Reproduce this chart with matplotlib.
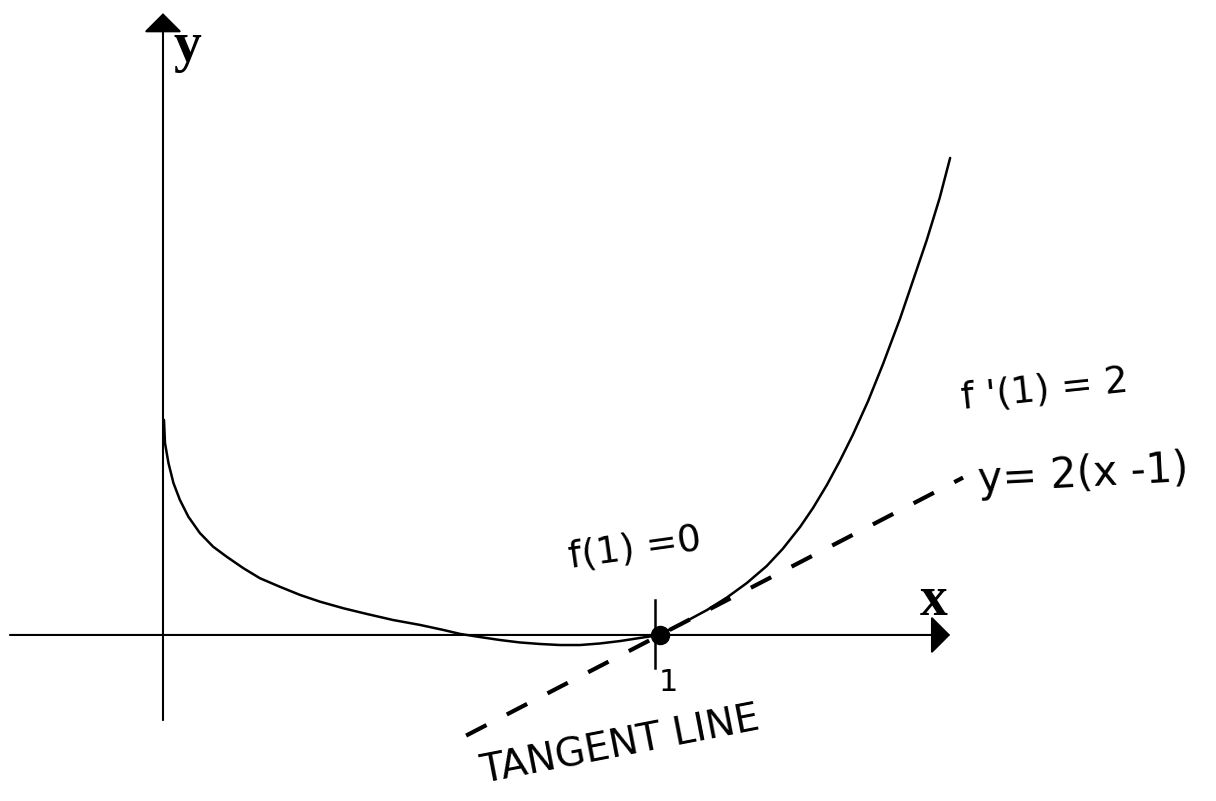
import matplotlib
matplotlib.use('Agg')
import matplotlib.pyplot as plt

# curve f(x) (x: 1 unit = x=1 tick, y: same scale as tangent y=2(x-1))
curve_x = [0.002, 0.004, 0.011, 0.021, 0.034, 0.051, 0.074, 0.101, 0.128, 0.162,
           0.195, 0.235, 0.276, 0.316, 0.363, 0.410, 0.463, 0.517, 0.564, 0.598,
           0.638, 0.678, 0.718, 0.759, 0.799, 0.839, 0.879, 0.920, 0.960, 1.000,
           1.014, 1.054, 1.095, 1.135, 1.175, 1.215, 1.247, 1.282, 1.308, 1.336,
           1.362, 1.388, 1.419, 1.449, 1.483, 1.509, 1.537, 1.563, 1.584]
curve_y = [1.667, 1.488, 1.333, 1.178, 1.047, 0.917, 0.791, 0.684, 0.607, 0.517,
           0.440, 0.374, 0.310, 0.258, 0.207, 0.163, 0.116, 0.078, 0.039, 0.008,
           -0.016, -0.039, -0.058, -0.070, -0.078, -0.078, -0.066, -0.047, -0.023, 0.000,
           0.031, 0.109, 0.194, 0.291, 0.403, 0.535, 0.667, 0.837, 0.984, 1.163,
           1.349, 1.550, 1.814, 2.101, 2.450, 2.744, 3.062, 3.388, 3.698]

# tangent line y = 2(x-1), endpoints
tangent_x = [0.61, 1.61]
tangent_y = [-0.78, 1.22]

# point of tangency
point_x = [1.0]
point_y = [0.0]

fig = plt.figure(figsize=(12.16, 8.01), dpi=100)
ax = fig.add_axes([0, 0, 1, 1])
ax.set_xlim(-0.328, 2.119)
ax.set_ylim(-1.287, 4.922)
ax.axis('off')

# axes with arrow heads
arrow = dict(arrowstyle='-|>,head_length=0.6,head_width=0.6', mutation_scale=20,
             lw=1.5, color='black', shrinkA=0, shrinkB=0)
ax.annotate('', xy=(1.584, 0), xytext=(-0.308, 0), arrowprops=arrow)
ax.annotate('', xy=(0, 4.82), xytext=(0, -0.66), arrowprops=arrow)
ax.text(0.05, 4.56, 'y', family='Liberation Serif', weight='bold', fontsize=40,
        ha='center', va='center')
ax.text(1.551, 0.26, 'x', family='Liberation Serif', weight='bold', fontsize=40,
        ha='center', va='center')

ax.plot(curve_x, curve_y, color='black', lw=1.8, solid_joinstyle='round',
        solid_capstyle='round')
ax.plot(tangent_x, tangent_y, color='black', lw=3, linestyle=(0, (5.5, 5.5)))
ax.plot(point_x, point_y, 'o', color='black', markersize=13)

# tick at x = 1
ax.plot([0.99, 0.99], [0.271, -0.256], color='black', lw=1.8)
ax.text(1.018, -0.37, '1', fontsize=22, ha='center', va='center')

hand = dict(family='DejaVu Sans', color='black', ha='center', va='center')
ax.text(0.95, 0.674, 'f(1) =0', fontsize=27, rotation=8, **hand)
ax.text(1.775, 1.899, "f '(1) = 2", fontsize=27, rotation=6, **hand)
ax.text(1.851, 1.240, 'y= 2(x -1)', fontsize=30, rotation=3, **hand)
ax.text(0.92, -0.86, 'TANGENT LINE', fontsize=28, rotation=11, **hand)

plt.savefig('out.png', dpi=100)
